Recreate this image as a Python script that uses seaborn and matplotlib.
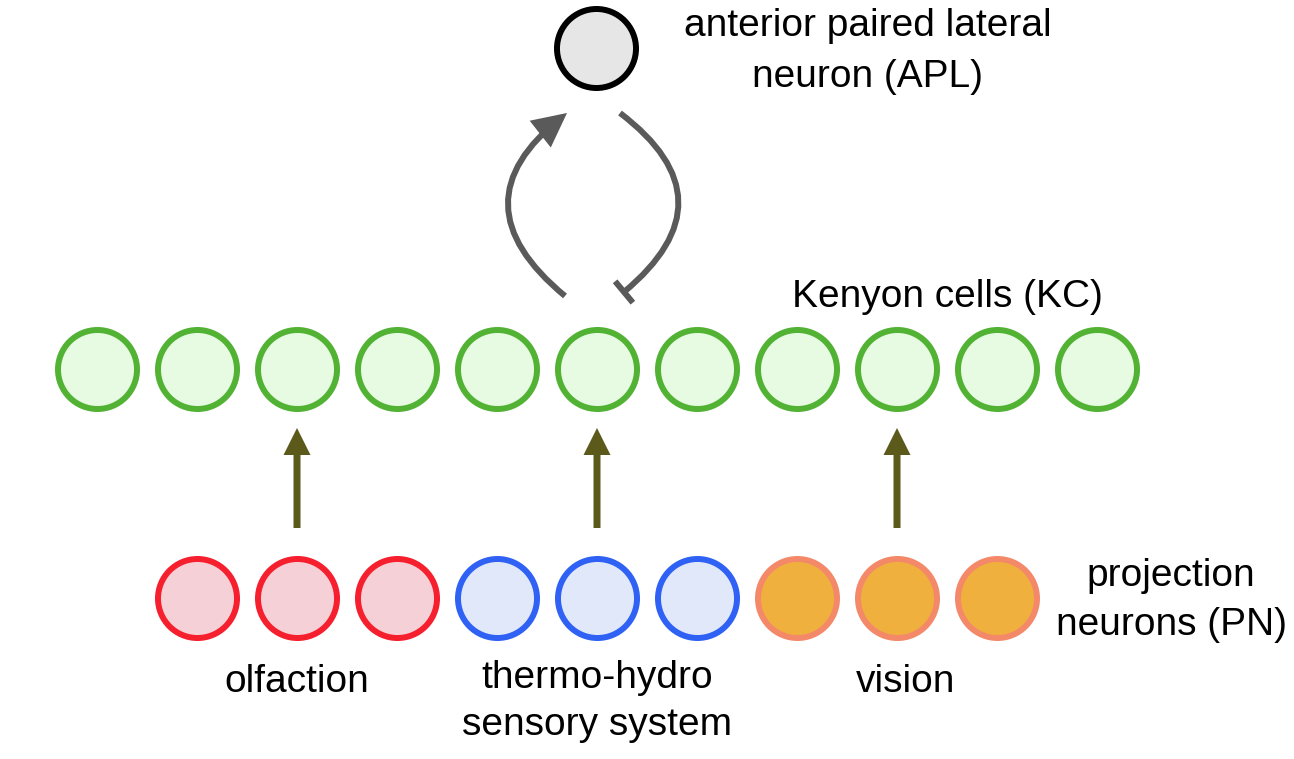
import matplotlib
matplotlib.use("Agg")
import matplotlib.pyplot as plt
from matplotlib.patches import FancyArrowPatch
import seaborn as sns
import pandas as pd

# ---------------- data ----------------
kc_count = 11
pn_groups = ["olfaction", "olfaction", "olfaction",
             "thermo-hydro", "thermo-hydro", "thermo-hydro",
             "vision", "vision", "vision"]
group_labels = {"olfaction": ["olfaction"],
                "thermo-hydro": ["thermo-hydro", "sensory system"],
                "vision": ["vision"]}
group_fill = {"olfaction": "#f5d1d7", "thermo-hydro": "#e1e8f9", "vision": "#f0b03d"}
group_edge = {"olfaction": "#f51f2e", "thermo-hydro": "#2f62f4", "vision": "#f4896a"}
kc_fill, kc_edge = "#e6fbe2", "#52b234"
apl_fill, apl_edge = "#e6e6e6", "#000000"
apl_label = ["anterior paired lateral", "neuron (APL)"]
kc_label = ["Kenyon cells (KC)"]
pn_label = ["projection", "neurons (PN)"]
pn_to_kc = [1, 4, 7]          # PN index feeding a KC (arrows)
apl_kc = 5                    # KC under the APL loop

# ---------------- layout ----------------
W, H = 1294, 759
x0, dx = 97, 100
y_apl, y_kc, y_pn = 47.5, 368.5, 597.5
ms = 3237
lw = 4.3
font = "Liberation Sans"
fs = 28

sns.set_theme(style="white")
plt.rcParams["font.family"] = [font, "DejaVu Sans"]

fig = plt.figure(figsize=(W / 100, H / 100), dpi=100)
ax = fig.add_axes([0, 0, 1, 1])

kc = pd.DataFrame({"x": [x0 + dx * i for i in range(kc_count)], "y": y_kc})
sns.scatterplot(data=kc, x="x", y="y", s=ms, color=kc_fill, edgecolor=kc_edge,
                linewidth=lw, ax=ax, legend=False, zorder=3)

pn = pd.DataFrame({"x": [x0 + dx * (i + 1) for i in range(len(pn_groups))],
                   "y": y_pn, "group": pn_groups})
for g in dict.fromkeys(pn_groups):
    sub = pn[pn.group == g]
    sns.scatterplot(data=sub, x="x", y="y", s=ms, color=group_fill[g],
                    edgecolor=group_edge[g], linewidth=lw, ax=ax, legend=False, zorder=3)

apl_x = x0 + dx * apl_kc - 1.5
apl = pd.DataFrame({"x": [apl_x], "y": [y_apl]})
sns.scatterplot(data=apl, x="x", y="y", s=ms, color=apl_fill, edgecolor=apl_edge,
                linewidth=lw, ax=ax, legend=False, zorder=3)

# PN -> KC arrows
olive = "#5b5a1b"
for i in pn_to_kc:
    xa = x0 + dx * (i + 1)
    ax.arrow(xa, 528, 0, -100, width=7, head_width=27, head_length=27,
             length_includes_head=True, color=olive, linewidth=0, zorder=2)

# KC <-> APL loop
gray = "#5a5a5a"
excite = FancyArrowPatch((565, 296), (567, 113),
                         connectionstyle="arc3,rad=-0.62",
                         arrowstyle="-|>,head_length=1.1,head_width=0.55",
                         mutation_scale=16, color=gray, lw=lw,
                         shrinkA=0, shrinkB=0, joinstyle="miter", capstyle="butt")
ax.add_patch(excite)
inhib = FancyArrowPatch((620, 113), (624, 292),
                        connectionstyle="arc3,rad=-0.63",
                        arrowstyle="-[,widthB=1.0,lengthB=0",
                        mutation_scale=10, color=gray, lw=lw,
                        shrinkA=0, shrinkB=0, capstyle="butt")
ax.add_patch(inhib)

# text
def lines(items, xs, ys):
    for t, x, y in zip(items, xs, ys):
        ax.text(x, y, t, ha="center", va="baseline", fontsize=fs, color="black")

lines(apl_label, [868, 868], [36, 87])
lines(kc_label, [947], [307])
lines(pn_label, [1171, 1171], [586, 635])
lines(group_labels["olfaction"], [297], [692])
lines(group_labels["thermo-hydro"], [597, 597], [688, 735])
lines(group_labels["vision"], [906], [692])

ax.set_xlim(0, W)
ax.set_ylim(H, 0)
ax.set_aspect("equal")
ax.axis("off")
fig.savefig("out.png", dpi=100, facecolor="white")
